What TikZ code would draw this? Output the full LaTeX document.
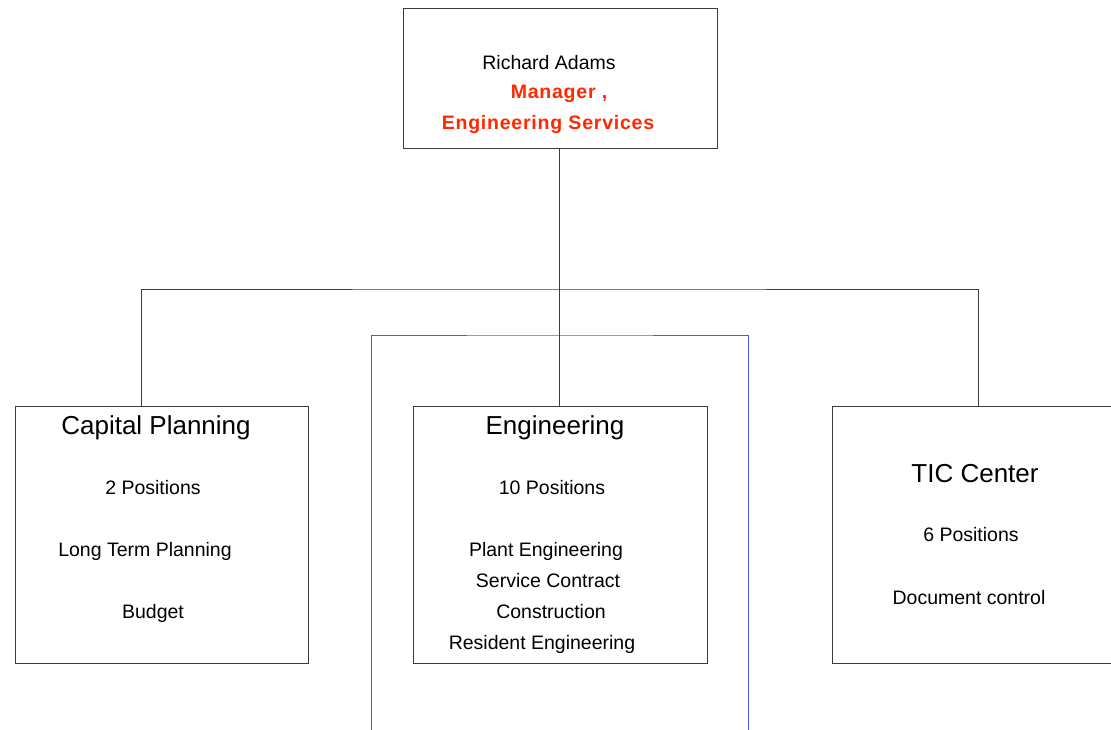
\documentclass[tikz,border=0pt]{standalone}
\usepackage{fontspec}
\setmainfont{Liberation Sans}
\definecolor{linegray}{RGB}{60,60,60}
\definecolor{titlered}{RGB}{255,40,0}
\definecolor{frameblue}{RGB}{70,90,255}
\begin{document}
\begin{tikzpicture}[x=1pt,y=-1pt,
  box/.style={draw=linegray,line width=1.1pt,rectangle,inner sep=0pt,anchor=north west},
  conn/.style={draw=linegray,line width=0.9pt},
  body/.style={inner sep=0pt,font=\fontsize{19.5}{22}\selectfont},
  title/.style={inner sep=0pt,font=\fontsize{26}{30}\selectfont},
  red/.style={inner sep=0pt,text=titlered,font=\fontsize{19.5}{22}\selectfont\bfseries\addfontfeature{LetterSpace=4}}]
\useasboundingbox (0,0) rectangle (1111,730);
\clip (0,0) rectangle (1111,730);
% blue frame
\coordinate (bl) at (371,745);
\coordinate (br) at (748,745);
\draw[frameblue,line width=1pt] (bl) |- (560,335) -| (br);
% boxes
\node[box,minimum width=314pt,minimum height=140pt] (top) at (403,8) {};
\node[box,minimum width=293pt,minimum height=257pt] (cap) at (15,406) {};
\node[box,minimum width=294pt,minimum height=257pt] (eng) at (413,406) {};
\node[box,minimum width=300pt,minimum height=257pt] (tic) at (832,406) {};
% connectors
\coordinate (hub) at (559,289);
\coordinate (capt) at (141,406);
\coordinate (engt) at (559,406);
\coordinate (tict) at (978,406);
\draw[conn] (top.south -| hub) -- (hub);
\draw[conn] (capt) |- (hub) -| (tict);
\draw[conn] (hub) -- (engt);
% top text
\node[body] (ra) at (549,63) {Richard Adams};
\node[red] (mgr) at (559,94) {Manager ,};
\node[red] (es) at (548,125) {Engineering Services};
% capital planning
\node[title] (capT) at (156,428) {Capital Planning};
\node[body] (cap1) at (153,488) {2 Positions};
\node[body] (cap2) at (145,551) {Long Term Planning};
\node[body] (cap3) at (153,613) {Budget};
% engineering
\node[title] (engT) at (555,428) {Engineering};
\node[body] (eng1) at (552,488) {10 Positions};
\node[body] (eng2) at (546,551) {Plant Engineering};
\node[body] (eng3) at (548,581) {Service Contract};
\node[body] (eng4) at (551,612) {Construction};
\node[body] (eng5) at (542,644) {Resident Engineering};
% TIC
\node[title] (ticT) at (975,474) {TIC Center};
\node[body] (tic1) at (971,535) {6 Positions};
\node[body] (tic2) at (969,598) {Document control};
\end{tikzpicture}
\end{document}
